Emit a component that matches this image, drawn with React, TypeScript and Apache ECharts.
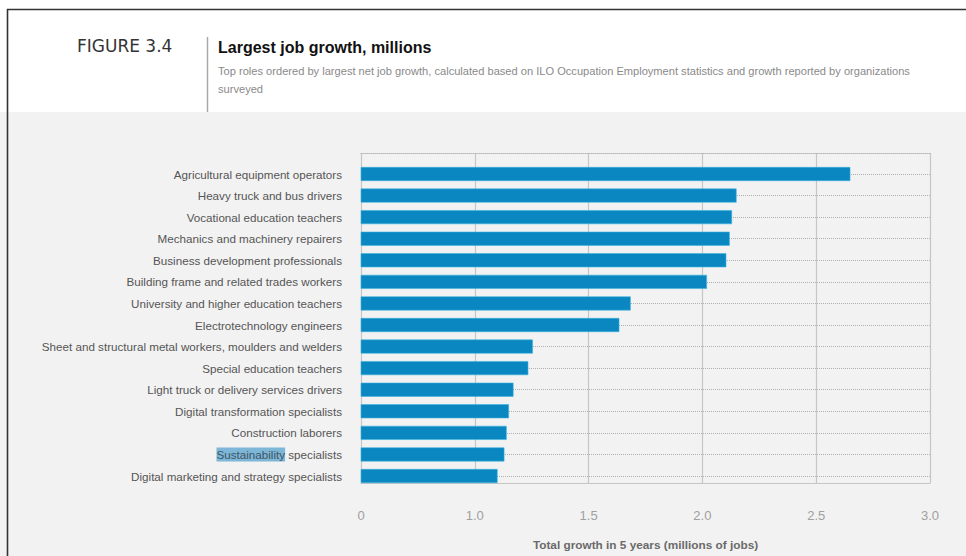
import React, { useEffect, useRef } from "react";
import * as echarts from "echarts";

const categories = [
  "Agricultural equipment operators",
  "Heavy truck and bus drivers",
  "Vocational education teachers",
  "Mechanics and machinery repairers",
  "Business development professionals",
  "Building frame and related trades workers",
  "University and higher education teachers",
  "Electrotechnology engineers",
  "Sheet and structural metal workers, moulders and welders",
  "Special education teachers",
  "Light truck or delivery services drivers",
  "Digital transformation specialists",
  "Construction laborers",
  "Sustainability specialists",
  "Digital marketing and strategy specialists",
];

const values = [2.65, 2.15, 2.13, 2.12, 2.105, 2.02, 1.685, 1.635, 1.255, 1.235, 1.17, 1.15, 1.14, 1.13, 1.1];

const axisMin = 0.5;
const axisMax = 3.0;
const axisStep = 0.5;

const figureLabel = "FIGURE 3.4";
const titleText = "Largest job growth, millions";
const subtitleLine1 =
  "Top roles ordered by largest net job growth, calculated based on ILO Occupation Employment statistics and growth reported by organizations";
const subtitleLine2 = "surveyed";
const xAxisName = "Total growth in 5 years (millions of jobs)";
const highlightWord = "Sustainability";

export default function App() {
  const ref = useRef<HTMLDivElement>(null);
  useEffect(() => {
    if (!ref.current) return;
    const chart = echarts.init(ref.current, undefined, { renderer: "svg" });
    const gridLeft = 361;
    const gridRight = 966 - 930;
    const option: any = {
      animation: false,
      backgroundColor: "transparent",
      textStyle: { fontFamily: "Liberation Sans, Arial, sans-serif" },
      grid: [
        { left: gridLeft, right: gridRight, top: 153, bottom: 556 - 498 },
        { left: gridLeft, right: gridRight, top: 174, bottom: 556 - 476 },
      ],
      xAxis: [
        {
          gridIndex: 0,
          type: "value",
          min: axisMin,
          max: axisMax,
          interval: axisStep,
          axisLine: { show: true, lineStyle: { color: "#c6c6c6", width: 1.2 } },
          axisTick: { show: false },
          splitLine: { show: true, lineStyle: { color: "#c6c6c6", width: 1.2 } },
          axisLabel: {
            margin: 26,
            color: "#a0a0a0",
            fontSize: 13,
            formatter: (v: number) => (Math.abs(v - axisMin) < 1e-9 ? "0" : v.toFixed(1)),
          },
          name: xAxisName,
          nameLocation: "middle",
          nameGap: 56,
          nameTextStyle: { color: "#6a6a6a", fontSize: 11.8, fontWeight: "bold" },
        },
        {
          gridIndex: 0,
          type: "value",
          position: "top",
          min: axisMin,
          max: axisMax,
          interval: axisStep,
          axisLine: { show: true, lineStyle: { color: "#b5b5b5", type: "dotted", width: 1 } },
          axisTick: { show: false },
          axisLabel: { show: false },
          splitLine: { show: false },
        },
        {
          gridIndex: 1,
          type: "value",
          min: axisMin,
          max: axisMax,
          interval: axisStep,
          show: false,
        },
      ],
      yAxis: [
        { gridIndex: 0, type: "value", show: false },
        {
          gridIndex: 1,
          type: "category",
          data: categories,
          inverse: true,
          boundaryGap: false,
          axisLine: { show: false },
          axisTick: { show: false },
          splitLine: { show: true, lineStyle: { color: "#b0b0b0", type: "dotted", width: 1 } },
          axisLabel: {
            margin: 19,
            color: "#555555",
            fontSize: 11.65,
            formatter: (v: string) =>
              v.startsWith(highlightWord)
                ? "{hl|" + highlightWord + "}" + v.slice(highlightWord.length)
                : v,
            rich: {
              hl: { backgroundColor: "#7db6d6", color: "#3d5566", fontSize: 11.65, padding: [1, 0, 1, 0] },
            },
          },
        },
      ],
      series: [
        {
          type: "bar",
          xAxisIndex: 2,
          yAxisIndex: 1,
          data: values,
          barWidth: 14,
          itemStyle: { color: "#0a86c1", borderColor: "#3bb3df", borderWidth: 0.6 },
        },
      ],
      graphic: [
        { type: "line", shape: { x1: 7, y1: 9.5, x2: 966, y2: 9.5 }, style: { stroke: "#333", lineWidth: 1.6 } },
        { type: "line", shape: { x1: 7.5, y1: 9, x2: 7.5, y2: 556 }, style: { stroke: "#333", lineWidth: 1.6 } },
        { type: "line", shape: { x1: 207.5, y1: 37, x2: 207.5, y2: 112 }, style: { stroke: "#a8a8a8", lineWidth: 1.5 } },
        {
          type: "text",
          x: 77,
          y: 46,
          style: { text: figureLabel, fill: "#333", fontSize: 17, fontFamily: "DejaVu Sans", textVerticalAlign: "middle" },
        },
        {
          type: "text",
          x: 218,
          y: 47,
          style: { text: titleText, fill: "#111", fontSize: 16, fontWeight: "bold", fontFamily: "Liberation Sans", textVerticalAlign: "middle" },
        },
        {
          type: "text",
          x: 218,
          y: 71,
          style: { text: subtitleLine1, fill: "#8a8a8a", fontSize: 11.1, fontFamily: "Liberation Sans", textVerticalAlign: "middle" },
        },
        {
          type: "text",
          x: 218,
          y: 89,
          style: { text: subtitleLine2, fill: "#8a8a8a", fontSize: 11.1, fontFamily: "Liberation Sans", textVerticalAlign: "middle" },
        },
      ],
    };
    chart.setOption(option);
    return () => chart.dispose();
  }, []);
  return (
    <div
      style={{
        position: "fixed",
        left: 0,
        top: 0,
        width: 966,
        height: 556,
        background: "linear-gradient(#ffffff 0px, #ffffff 112px, #f2f2f2 112px, #f2f2f2 100%)",
      }}
    >
      <div ref={ref} style={{ width: 966, height: 556 }} />
    </div>
  );
}
